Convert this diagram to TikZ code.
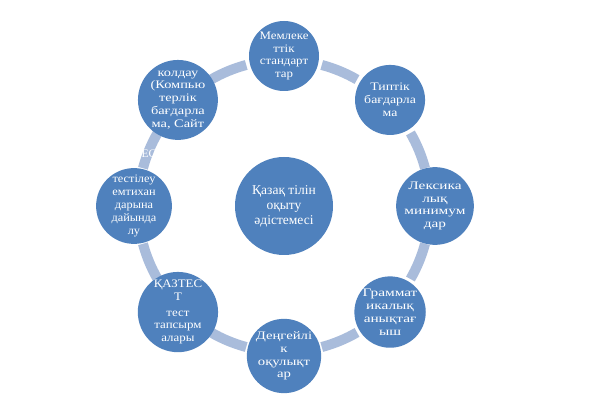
\documentclass[tikz,border=0pt]{standalone}
\usepackage{fontspec}
\setmainfont{Liberation Serif}
\definecolor{nodeblue}{HTML}{4F81BD}
\definecolor{arcblue}{HTML}{A9BCDB}
\begin{document}
\begin{tikzpicture}[x=1pt,y=1pt,
  outer/.style={circle,fill=nodeblue,minimum size=70pt,inner sep=0pt,text=white,align=center,
    font=\fontsize{11.5}{12.8}\selectfont\addfontfeatures{FakeStretch=#1}},
  outer/.default=1,
  hub/.style={circle,fill=nodeblue,minimum size=98pt,inner sep=0pt,text=white,align=center,
    font=\fontsize{13.5}{15}\selectfont},
  ring/.style={arcblue,line width=10pt}]
\useasboundingbox (0,0) rectangle (590,407);
\fill[white] (0,0) rectangle (590,407);
\coordinate (c) at (284,201);
% arcs
\foreach \a in {90,45,0,-45,-90,-135,-180,-225}{
  \draw[ring] ([shift={(c)}]\a-15:146) arc[start angle=\a-15,end angle=\a-30,radius=146];
}
\node[hub] (hubn) at (c) {Қазақ тілін\\оқыту\\әдістемесі};
\node[outer=1.12] (n1) at ([shift={(c)}]90:150) {Мемлеке\\ттік\\стандарт\\тар};
\node[outer=1.2] (n2) at ([shift={(c)}]45:150) {Типтік\\бағдарла\\ма};
\node[outer=1.33] (n3) at ([shift={(c)}]0:151) {Лексика\\лық\\минимум\\дар};
\node[outer=1.33] (n4) at ([shift={(c)}]-45:150) {Граммат\\икалық\\анықтағ\\ыш};
\node[outer=1.28] (n5) at ([shift={(c)}]-90:150) {Деңгейлі\\к\\оқулықт\\ар};
\node[outer=1.12] (n6) at ([shift={(c)}]-135:150) {ҚАЗТЕС\\Т\\[3pt]тест\\тапсырм\\алары};
\node[outer=1.07] (n7) at ([shift={(c)}]180:150) {тестілеу\\емтихан\\дарына\\дайында\\лу};
\node[outer=1.25] (n8) at ([shift={(c)}]135:150) {колдау\\(Компью\\терлік\\бағдарла\\ма, Сайт};
\node[text=white,font=\fontsize{11.5}{12.8}\selectfont,inner sep=0pt] (frag) at (149,253) {ЕС};
\end{tikzpicture}
\end{document}
